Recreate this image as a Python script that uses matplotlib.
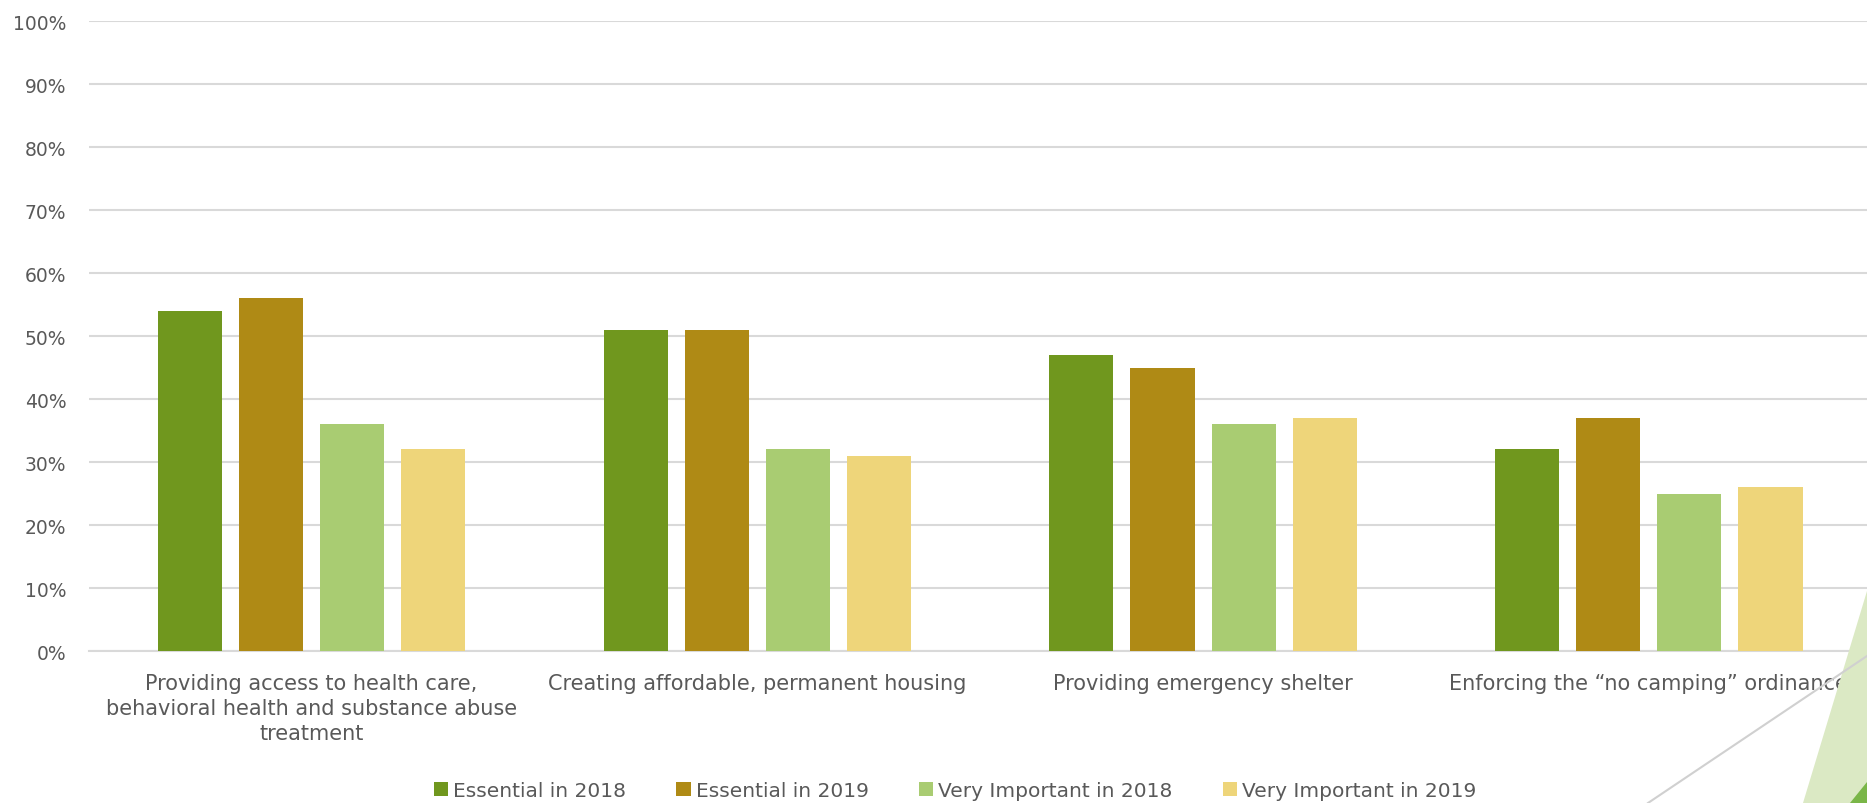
import matplotlib.pyplot as plt
import numpy as np
from matplotlib.patches import Polygon
from matplotlib.lines import Line2D

# categorias y series
categorias = ["Providing access to health care,\nbehavioral health and substance abuse\ntreatment",
              "Creating affordable, permanent housing",
              "Providing emergency shelter",
              "Enforcing the \u201cno camping\u201d ordinance"]
series = ["Essential in 2018", "Essential in 2019", "Very Important in 2018", "Very Important in 2019"]
essential_2018 = [0.54, 0.51, 0.47, 0.32]
essential_2019 = [0.56, 0.51, 0.45, 0.37]
very_imp_2018 = [0.36, 0.32, 0.36, 0.25]
very_imp_2019 = [0.32, 0.31, 0.37, 0.26]
colores = ["#70971e", "#af8a15", "#a9cc72", "#eed57a"]

valores = [essential_2018, essential_2019, very_imp_2018, very_imp_2019]
gris = "#595959"

fig = plt.figure(figsize=(18.67, 8.04), dpi=100)
ax = fig.add_axes([0.0475, 0.189, 0.955, 0.7836])

x = np.arange(len(categorias))
ancho = 0.1437
paso = 0.182
for i, (serie, vals) in enumerate(zip(series, valores)):
    ax.bar(x + (i - 1.5) * paso, vals, width=ancho, color=colores[i], label=serie, zorder=3)

ax.set_xlim(-0.5, 3.5)
ax.set_ylim(0, 1)
ax.set_yticks(np.arange(0, 1.01, 0.1))
ax.set_yticklabels([f"{int(round(v * 100))}%" for v in np.arange(0, 1.01, 0.1)])
ax.yaxis.grid(True, color="#d9d9d9", linewidth=1.5, zorder=0)
ax.set_axisbelow(True)
for s in ["top", "right", "left"]:
    ax.spines[s].set_visible(False)
ax.spines["bottom"].set_color("#d9d9d9")
ax.spines["bottom"].set_linewidth(1.5)
ax.tick_params(axis="y", length=0, pad=16, labelsize=13.5, labelcolor=gris)
ax.tick_params(axis="x", length=0, pad=16, labelcolor=gris)
ax.set_xticks(x)
ax.set_xticklabels(categorias, fontsize=15, linespacing=1.3)

leg = fig.legend(loc="center", bbox_to_anchor=(0.5115, 0.016), ncol=4, frameon=False,
                 handlelength=0.7, handleheight=0.7, handletextpad=0.25, columnspacing=2.5,
                 prop={"size": 14.5})
for t in leg.get_texts():
    t.set_color(gris)

# decoracion abajo a la derecha
W, H = 1867, 804
def px(xx, yy):
    return (xx / W, 1 - yy / H)

fig.patches.append(Polygon([px(1867, 592), px(1803, 804), px(1867, 804)], closed=True,
                           transform=fig.transFigure, facecolor="#dbe9c4", edgecolor="none", zorder=0))
fig.patches.append(Polygon([px(1850, 804), px(1867, 783), px(1867, 804)], closed=True,
                           transform=fig.transFigure, facecolor="#7ab648", edgecolor="none", zorder=1))
fig.lines.append(Line2D([1648 / W, 1.0], [0, 1 - 657 / H], transform=fig.transFigure,
                        color="#d0d0d0", linewidth=1.5))

fig.savefig("out.png", dpi=100)
